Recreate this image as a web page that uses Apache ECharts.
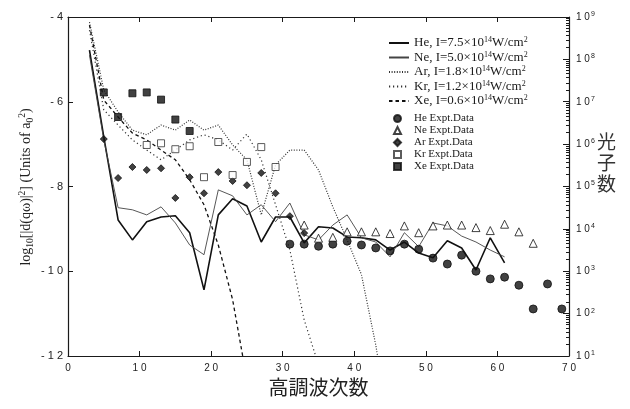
<!DOCTYPE html>
<html>
<head>
<meta charset="utf-8">
<script src="https://cdn.jsdelivr.net/npm/echarts@6/dist/echarts.min.js"></script>
<style>
  html, body { margin: 0; padding: 0; background: #fff; }
  #chart { width: 630px; height: 409px; }
</style>
</head>
<body>
<div id="chart"></div>
<script>
// Theory curves: log10|d(qω)|^2 per odd harmonic order
const heOrders = [3,5,7,9,11,13,15,17,19,21,23,25,27,29,31,33,35,37,39,41,43,45,47,49,51,53,55,57,59,61];
const heTheory = [-4.78,-6.83,-8.79,-9.26,-8.83,-8.72,-8.69,-9.09,-10.44,-8.67,-8.29,-8.46,-9.31,-8.72,-8.72,-9.33,-8.95,-8.98,-9.19,-9.21,-9.26,-9.50,-9.31,-9.57,-9.68,-9.28,-9.45,-9.97,-9.21,-9.80];

const neOrders = heOrders;
const neTheory = [-4.90,-6.90,-8.50,-8.55,-8.67,-8.48,-8.86,-9.38,-9.61,-8.08,-8.22,-8.67,-8.43,-8.83,-8.39,-9.14,-9.26,-8.91,-8.67,-9.21,-9.31,-9.66,-9.09,-9.42,-8.86,-8.93,-9.17,-9.31,-9.50,-9.66];

const arOrders = [3,5,7,9,11,13,15,17,19,21,23,25,27,29,31,33,35,37,39,41,43,45];
const arTheory = [-4.12,-5.72,-6.24,-6.67,-6.78,-6.55,-6.67,-6.43,-6.67,-6.55,-7.02,-7.37,-8.67,-7.49,-7.14,-7.14,-7.61,-8.48,-9.26,-10.08,-11.74,-13.75];

const krOrders = [3,5,7,9,11,13,15,17,19,21,23,25,27,29,31,33,35];
const krTheory = [-4.31,-6.19,-6.55,-6.90,-7.14,-7.37,-7.14,-6.90,-6.78,-6.90,-7.14,-6.76,-7.37,-8.43,-9.50,-11.15,-12.21];

const xeOrders = [3,5,7,9,11,13,15,17,19,21,23,25];
const xeTheory = [-4.19,-5.96,-6.36,-6.74,-6.90,-7.14,-7.37,-7.84,-8.43,-9.38,-10.67,-12.56];

// Measured photon counts, as log10(number of photons)
const heExpOrders = [31,33,35,37,39,41,43,45,47,49,51,53,55,57,59,61,63,65,67,69];
const heExpLog = [3.64,3.64,3.59,3.64,3.71,3.62,3.55,3.48,3.64,3.52,3.31,3.17,3.38,3.00,2.82,2.86,2.67,2.11,2.70,2.11];

const neExpOrders = [33,35,37,39,41,43,45,47,49,51,53,55,57,59,61,63,65];
const neExpLog = [4.09,3.78,3.80,3.93,3.93,3.93,3.89,4.07,3.91,4.07,4.09,4.09,4.03,3.96,4.11,3.93,3.66];

const arExpOrders = [5,7,9,11,13,15,17,19,21,23,25,27,29,31,33];
const arExpLog = [6.12,5.20,5.46,5.39,5.43,4.73,5.22,4.84,5.34,5.13,5.03,5.32,4.84,4.30,3.90];

const krExpOrders = [11,13,15,17,19,21,23,25,27,29];
const krExpLog = [5.98,6.02,5.88,5.95,5.22,6.05,5.27,5.58,5.93,5.46];

const xeExpOrders = [5,7,9,11,13,15,17];
const xeExpLog = [7.22,6.64,7.20,7.22,7.05,6.58,6.31];

const gasNames = ['He','Ne','Ar','Kr','Xe'];
const intensities = ['7.5','5.0','1.8','1.2','0.6'];
const exptNames = ['He Expt.Data','Ne Expt.Data','Ar Expt.Data','Kr Expt.Data','Xe Expt.Data'];

const pair = (xs, ys) => xs.map((x, i) => [x, ys[i]]);
const pairPow = (xs, ls) => xs.map((x, i) => [x, Math.pow(10, ls[i])]);
const spaced = s => String(s).split('').join(' ');

const ink = '#1a1a1a';
const tickFont = '"Liberation Sans", Arial, sans-serif';
const serif = '"Liberation Serif", "Times New Roman", serif';
const cjk = '"Noto Sans CJK JP", sans-serif';

const theory = [
  { name: 'He', data: pair(heOrders, heTheory), width: 1.6, type: 'solid', color: '#111' },
  { name: 'Ne', data: pair(neOrders, neTheory), width: 0.9, type: 'solid', color: '#444' },
  { name: 'Ar', data: pair(arOrders, arTheory), width: 1.2, type: [1, 1.6], color: '#333' },
  { name: 'Kr', data: pair(krOrders, krTheory), width: 1.2, type: [1.2, 2.8], color: '#333' },
  { name: 'Xe', data: pair(xeOrders, xeTheory), width: 1.3, type: [3.5, 3], color: '#111' }
];

const expt = [
  { name: exptNames[0], data: pairPow(heExpOrders, heExpLog), symbol: 'circle', size: 8, fill: '#111', border: '#111' },
  { name: exptNames[1], data: pairPow(neExpOrders, neExpLog), symbol: 'triangle', size: 8, fill: '#fff', border: '#111' },
  { name: exptNames[2], data: pairPow(arExpOrders, arExpLog), symbol: 'diamond', size: 7, fill: '#111', border: '#111' },
  { name: exptNames[3], data: pairPow(krExpOrders, krExpLog), symbol: 'rect', size: 7, fill: '#fff', border: '#333' },
  { name: exptNames[4], data: pairPow(xeExpOrders, xeExpLog), symbol: 'rect', size: 7, fill: '#111', border: '#111' }
];

const series = [];
theory.forEach(t => series.push({
  name: t.name, type: 'line', xAxisIndex: 0, yAxisIndex: 0,
  data: t.data, symbol: 'none', clip: true, z: 3,
  lineStyle: { color: t.color, width: t.width, type: t.type },
  itemStyle: { color: t.color }
}));
expt.forEach(e => series.push({
  name: e.name, type: 'scatter', xAxisIndex: 0, yAxisIndex: 1,
  data: e.data, symbol: e.symbol, symbolSize: e.size, z: 4,
  itemStyle: { color: e.fill, borderColor: e.border, borderWidth: 1 }
}));

const legendRich = {
  sup: { fontSize: 8, fontFamily: serif, color: ink, verticalAlign: 'top', padding: [0, 0, 6, 0] }
};

const chart = echarts.init(document.getElementById('chart'), null, { renderer: 'canvas' });
chart.setOption({
  animation: false,
  backgroundColor: '#fff',
  grid: { left: 68, top: 17, width: 501, height: 339 },
  legend: [
    {
      data: gasNames, orient: 'vertical', left: 383, top: 31,
      itemWidth: 20, itemHeight: 10, itemGap: 1,
      itemStyle: { opacity: 0 },
      textStyle: { fontFamily: serif, fontSize: 13, color: ink, rich: legendRich },
      formatter: n => n + ', I=' + intensities[gasNames.indexOf(n)] + '×10{sup|14}W/cm{sup|2}'
    },
    {
      data: exptNames, orient: 'vertical', left: 388, top: 108,
      itemWidth: 7, itemHeight: 7, itemGap: 1,
      textStyle: { fontFamily: serif, fontSize: 11, lineHeight: 11, color: ink, padding: [0, 0, 0, 8] }
    }
  ],
  xAxis: [
    {
      type: 'value', min: 0, max: 70, interval: 10, position: 'bottom',
      axisLine: { show: true, onZero: false, lineStyle: { color: ink, width: 1.2 } },
      axisTick: { show: true, inside: true, length: 5, lineStyle: { color: ink } },
      splitLine: { show: false },
      axisLabel: { color: '#222', fontFamily: tickFont, fontSize: 10, margin: 7, formatter: v => spaced(v) },
      name: '高調波次数', nameLocation: 'middle', nameGap: 19,
      nameTextStyle: { fontFamily: cjk, fontSize: 20, color: '#222', verticalAlign: 'top' }
    },
    {
      type: 'value', min: 0, max: 70, interval: 10, position: 'top',
      axisLine: { show: true, onZero: false, lineStyle: { color: ink, width: 1.2 } },
      axisTick: { show: true, inside: true, length: 5, lineStyle: { color: ink } },
      axisLabel: { show: false }, splitLine: { show: false }
    }
  ],
  yAxis: [
    {
      type: 'value', min: -12, max: -4, interval: 2, position: 'left',
      axisLine: { show: true, onZero: false, lineStyle: { color: ink, width: 1.2 } },
      axisTick: { show: true, inside: true, length: 5, lineStyle: { color: ink } },
      splitLine: { show: false },
      axisLabel: { color: '#222', fontFamily: tickFont, fontSize: 11, margin: 5,
        formatter: v => '- ' + spaced(Math.abs(v)) }
    },
    {
      type: 'log', logBase: 10, min: 10, max: 1e9, position: 'right',
      axisLine: { show: true, onZero: false, lineStyle: { color: ink, width: 1.2 } },
      axisTick: { show: true, inside: true, length: 6, lineStyle: { color: ink } },
      minorTick: { show: true, splitNumber: 10, length: 3, lineStyle: { color: ink } },
      splitLine: { show: false }, minorSplitLine: { show: false },
      axisLabel: {
        color: '#222', fontFamily: tickFont, fontSize: 10, margin: 7,
        formatter: v => '1 0{sup|' + Math.round(Math.log10(v)) + '}',
        rich: { sup: { fontSize: 7, fontFamily: tickFont, color: '#222', verticalAlign: 'top', padding: [0, 0, 6, 1] } }
      }
    }
  ],
  graphic: [
    {
      // left-axis title, rotated to read bottom-to-top
      type: 'text', x: 26, y: 187, rotation: Math.PI / 2,
      style: {
        text: 'log{sub|10}[|d(qω)|{sup|2}] (Units of a{sub|0}{sup|2})',
        fontFamily: serif, fontSize: 14, fill: '#222', align: 'center', verticalAlign: 'middle',
        rich: {
          sub: { fontFamily: serif, fontSize: 9.5, fill: '#222', padding: [8, 0, 0, 0] },
          sup: { fontFamily: serif, fontSize: 9.5, fill: '#222', padding: [0, 0, 8, 0] }
        }
      }
    },
    {
      // right-axis title, stacked vertically
      type: 'text', left: 597, top: 131,
      style: { text: '光\n子\n数', fontFamily: cjk, fontSize: 19, lineHeight: 21, fill: '#333' }
    }
  ],
  series: series
});
</script>
</body>
</html>
